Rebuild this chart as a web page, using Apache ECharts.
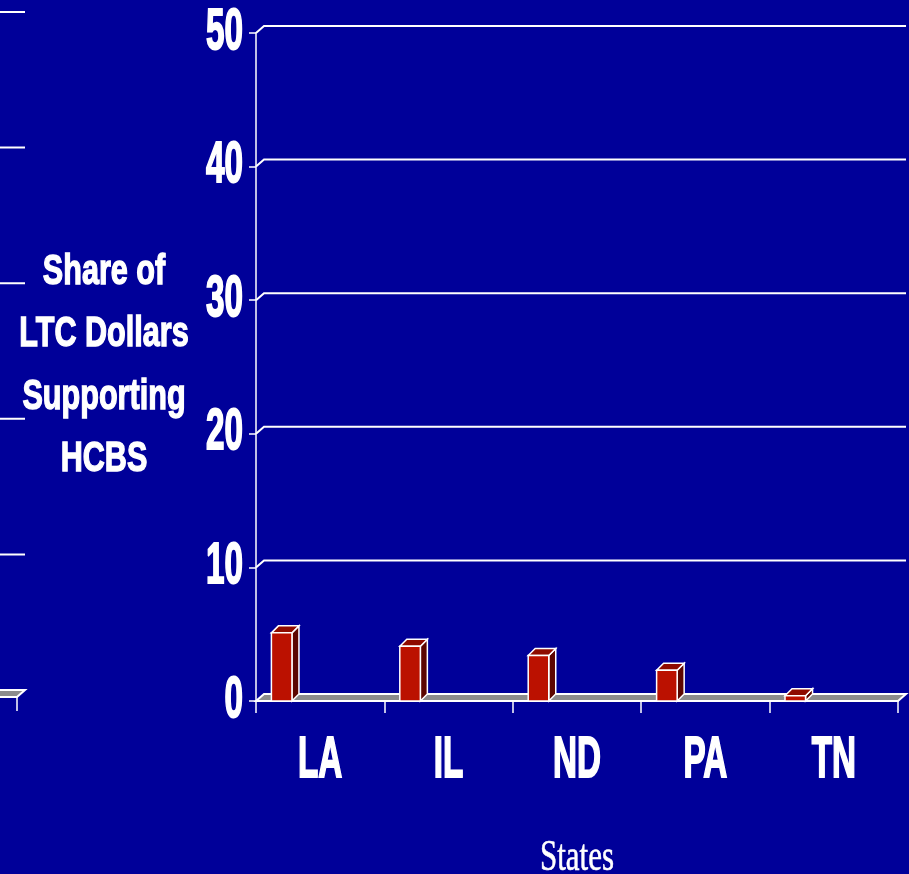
<!DOCTYPE html>
<html>
<head>
<meta charset="utf-8">
<script src="https://cdn.jsdelivr.net/npm/echarts@6/dist/echarts.min.js"></script>
<style>
  html, body { margin: 0; padding: 0; background: #000099; }
  #chart { width: 909px; height: 874px; }
</style>
</head>
<body>
<div id="chart"></div>
<script>
// ---- data ----
const states = ['LA', 'IL', 'ND', 'PA', 'TN'];
const hcbsShare = [5.1, 4.1, 3.4, 2.3, 0.4];
const yTicks = [0, 10, 20, 30, 40, 50];
const yTickLabels = ['0', '10', '20', '30', '40', '50'];
const titleLines = ['Share of', 'LTC Dollars', 'Supporting', 'HCBS'];
const xTitle = 'States';

// ---- style ----
const BG = '#000099';
const WHITE = '#ffffff';
const FLOOR = '#8c8c8c';
const FRONT = '#bb1100';
const TOP = '#8e0b00';
const SIDE = '#5c0600';
const WALL_DX = 8, WALL_DY = 7;
const BAR_DX = 7, BAR_DY = 7;

// tall, narrow bold lettering
const NARROW = { font: 'bold 40px "Liberation Sans", Arial, sans-serif', sx: 0.83, sy: 1.42 };

function scaledText(x, y, text, spec, align) {
  return {
    type: 'text', x: x, y: y, scaleX: spec.sx, scaleY: spec.sy, z2: 10,
    style: { text: text, font: spec.font, fill: WHITE, stroke: WHITE, lineWidth: 1.4,
             align: align, verticalAlign: 'middle' }
  };
}

// back wall gridlines with their 3D connectors, and the floor at zero
function wallRender(params, api) {
  const cs = params.coordSys;
  const v = api.value(1);
  const y = api.coord([0, v])[1];
  const x0 = cs.x, x1 = cs.x + cs.width;
  if (v === yTicks[0]) {
    return {
      type: 'polygon',
      shape: { points: [[x0, y], [x1, y], [x1 + WALL_DX, y - WALL_DY], [x0 + WALL_DX, y - WALL_DY]] },
      style: { fill: FLOOR, stroke: WHITE, lineWidth: 2 }
    };
  }
  return {
    type: 'polyline',
    shape: { points: [[x0, y], [x0 + WALL_DX, y - WALL_DY], [x1 + WALL_DX, y - WALL_DY]] },
    style: { stroke: WHITE, lineWidth: 2, fill: null }
  };
}

// 3D column: front face, top and right side
function barRender(params, api) {
  const idx = api.value(0), v = api.value(1);
  const base = api.coord([idx, 0]);
  const top = api.coord([idx, v]);
  const band = api.size([1, 0])[0];
  const left = base[0] - band / 2 + band * 0.12;
  const w = band * 0.16;
  const t = top[1], b = base[1];
  const edge = { stroke: WHITE, lineWidth: 1.5 };
  return {
    type: 'group',
    children: [
      { type: 'polygon', shape: { points: [[left + w, t], [left + w + BAR_DX, t - BAR_DY], [left + w + BAR_DX, b - BAR_DY], [left + w, b]] },
        style: Object.assign({ fill: SIDE }, edge) },
      { type: 'polygon', shape: { points: [[left, t], [left + BAR_DX, t - BAR_DY], [left + w + BAR_DX, t - BAR_DY], [left + w, t]] },
        style: Object.assign({ fill: TOP }, edge) },
      { type: 'rect', shape: { x: left, y: t, width: w, height: b - t },
        style: Object.assign({ fill: FRONT }, edge) }
    ]
  };
}

function yLabelRender(params, api) {
  const cs = params.coordSys;
  const i = params.dataIndex;
  const y = api.coord([0, api.value(1)])[1];
  return scaledText(cs.x - 13, y, yTickLabels[i], NARROW, 'right');
}

function xLabelRender(params, api) {
  const i = api.value(0);
  const p = api.coord([i, 0]);
  return scaledText(p[0], p[1] + 60, states[i], NARROW, 'center');
}

const chart = echarts.init(document.getElementById('chart'), null, { renderer: 'canvas' });

const axisWhite = { color: WHITE, width: 1.5 };

chart.setOption({
  backgroundColor: BG,
  animation: false,
  grid: [
    { left: 256, right: 11, top: 33, bottom: 173, outerBoundsMode: 'none', containLabel: false },
    // neighbouring panel, mostly off the left edge
    { left: -625, width: 642, top: 19, bottom: 177, outerBoundsMode: 'none', containLabel: false }
  ],
  xAxis: [
    { gridIndex: 0, type: 'category', data: states, boundaryGap: true,
      axisLine: { show: true, lineStyle: axisWhite },
      axisTick: { show: true, length: 12, interval: 0, lineStyle: axisWhite },
      axisLabel: { show: false }, splitLine: { show: false } },
    { gridIndex: 1, type: 'category', data: states, boundaryGap: true,
      axisLine: { show: false },
      axisTick: { show: true, length: 14, interval: 0, lineStyle: axisWhite },
      axisLabel: { show: false }, splitLine: { show: false } }
  ],
  yAxis: [
    { gridIndex: 0, type: 'value', min: 0, max: 50, interval: 10,
      axisLine: { show: true, lineStyle: axisWhite },
      axisTick: { show: true, length: 7, lineStyle: axisWhite },
      axisLabel: { show: false }, splitLine: { show: false } },
    { gridIndex: 1, type: 'value', min: 0, max: 50, interval: 10,
      axisLine: { show: false }, axisTick: { show: false },
      axisLabel: { show: false }, splitLine: { show: false } }
  ],
  graphic: [
    { type: 'text', x: 104, y: 366, scaleX: 1.02, scaleY: 1.4,
      style: { text: titleLines.join('\n'), font: 'bold 30px "Liberation Sans", Arial, sans-serif',
               fill: WHITE, stroke: WHITE, lineWidth: 1, align: 'center', verticalAlign: 'middle', lineHeight: 44.5 } },
    { type: 'text', x: 577, y: 858, scaleX: 1, scaleY: 1.45,
      style: { text: xTitle, font: '31px "Liberation Serif", "Times New Roman", serif',
               fill: WHITE, stroke: WHITE, lineWidth: 0.4, align: 'center', verticalAlign: 'middle' } }
  ],
  series: [
    { type: 'custom', name: 'wall', xAxisIndex: 0, yAxisIndex: 0, z: 1, silent: true,
      data: yTicks.map(v => [0, v]), renderItem: wallRender },
    { type: 'custom', name: 'wall-left', xAxisIndex: 1, yAxisIndex: 1, z: 1, silent: true,
      data: yTicks.map(v => [0, v]), renderItem: wallRender },
    { type: 'custom', name: 'HCBS share', xAxisIndex: 0, yAxisIndex: 0, z: 3, silent: true,
      data: hcbsShare.map((v, i) => [i, v]), renderItem: barRender },
    { type: 'custom', name: 'y-labels', xAxisIndex: 0, yAxisIndex: 0, z: 4, silent: true,
      data: yTicks.map(v => [0, v]), renderItem: yLabelRender },
    { type: 'custom', name: 'x-labels', xAxisIndex: 0, yAxisIndex: 0, z: 4, silent: true,
      data: states.map((s, i) => [i, 0]), renderItem: xLabelRender }
  ]
});
</script>
</body>
</html>
